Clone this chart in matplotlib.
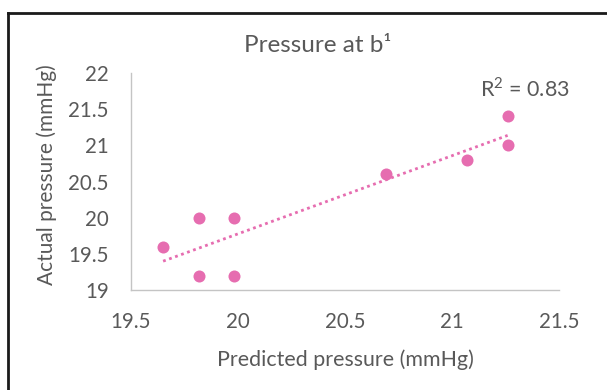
import numpy as np
import matplotlib
matplotlib.use('Agg')
import matplotlib.pyplot as plt
from matplotlib.lines import Line2D

# data
predicted = [19.65, 19.82, 19.82, 19.98, 19.98, 20.69, 21.07, 21.26, 21.26]
actual = [19.6, 20.0, 19.2, 20.0, 19.2, 20.6, 20.8, 21.0, 21.4]
xticks = [19.5, 20, 20.5, 21, 21.5]
yticks = [19, 19.5, 20, 20.5, 21, 21.5, 22]

pink = '#E66DB0'
grey = '#595959'
plt.rcParams['font.family'] = ['Lato', 'DejaVu Sans']
plt.rcParams['mathtext.fontset'] = 'custom'
plt.rcParams['mathtext.rm'] = 'Lato'

fig = plt.figure(figsize=(6.07, 3.9), dpi=100)
ax = fig.add_axes([131/607, 1-290/390, (559-131)/607, (290-73)/390])

ax.scatter(predicted, actual, s=75, color=pink, zorder=3, linewidths=0)

# linear trendline
k, b = np.polyfit(predicted, actual, 1)
xs = np.array([min(predicted), max(predicted)])
ax.plot(xs, k*xs+b, linestyle=(0, (1, 1.3)), color=pink, lw=2, zorder=2)

ax.set_xlim(19.5, 21.5)
ax.set_ylim(19, 22)
ax.set_xticks(xticks)
ax.set_yticks(yticks)
ax.set_xticklabels(['19.5', '20', '20.5', '21', '21.5'])
ax.set_yticklabels(['19', '19.5', '20', '20.5', '21', '21.5', '22'])
ax.tick_params(length=0, labelsize=14.8, labelcolor=grey)
ax.tick_params(axis='y', pad=16)
ax.tick_params(axis='x', pad=15.5)
for s in ['top', 'right']:
    ax.spines[s].set_visible(False)
for s in ['left', 'bottom']:
    ax.spines[s].set_color('#C4C4C4')
    ax.spines[s].set_linewidth(1)

ax.set_xlabel('Predicted pressure (mmHg)', fontsize=15.4, color=grey, va='center')
ax.xaxis.set_label_coords(345/607, 1-360/390, transform=fig.transFigure)
ax.set_ylabel('Actual pressure (mmHg)', fontsize=15, color=grey, va='center', ha='center')
ax.yaxis.set_label_coords(47/607, 1-175/390, transform=fig.transFigure)
fig.text(318/607, 1-46/390, 'Pressure at b\u00b9', fontsize=17.5, color=grey,
         ha='center', va='center')
fig.text(525/607, 1-89/390, r'R$^{\mathregular{2}}$ = 0.83', fontsize=15.5, color=grey,
         ha='center', va='center')

# black frame around the figure (left and top edges visible)
fig.add_artist(Line2D([7.5/607, 7.5/607], [-0.1, 1-12.5/390], color='#1a1a1a', lw=2,
                      transform=fig.transFigure))
fig.add_artist(Line2D([7.5/607, 1.1], [1-12.5/390, 1-12.5/390], color='#1a1a1a', lw=2,
                      transform=fig.transFigure))

fig.savefig('out.png', dpi=100)
